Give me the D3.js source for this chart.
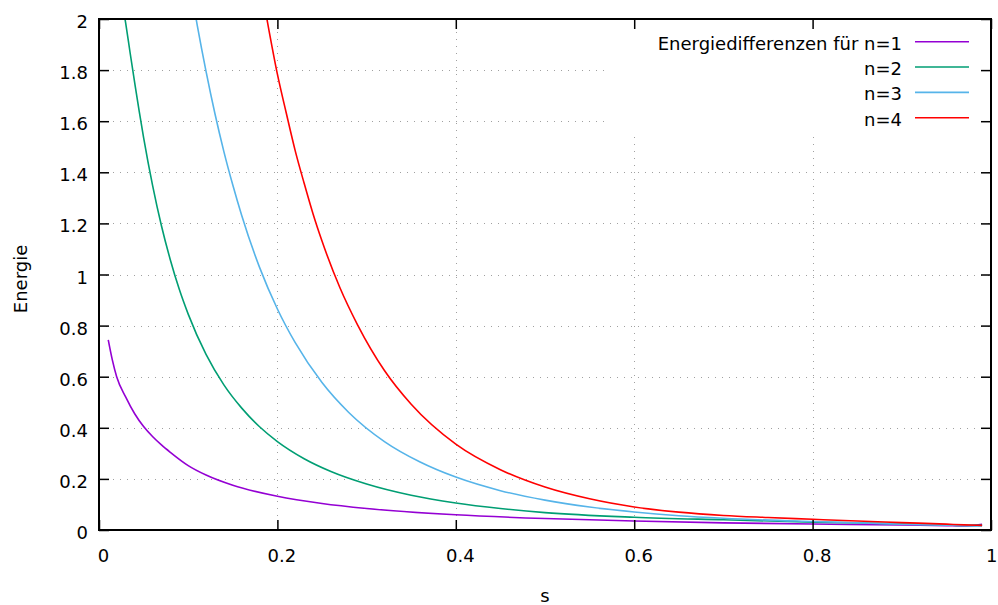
<!DOCTYPE html>
<html>
<head>
<meta charset="utf-8">
<script src="https://cdn.jsdelivr.net/npm/d3@7"></script>
<style>
  html, body { margin: 0; padding: 0; background: #fff; }
  svg { display: block; }
  text { font-family: "DejaVu Sans", sans-serif; font-size: 18px; fill: #000; }
</style>
</head>
<body>
<svg id="chart" width="998" height="605"></svg>
<script>
// ---- data ----
const xTicks = [0, 0.2, 0.4, 0.6, 0.8, 1];
const yTicks = [0, 0.2, 0.4, 0.6, 0.8, 1, 1.2, 1.4, 1.6, 1.8, 2];
const seriesNames = ["Energiedifferenzen für n=1", "n=2", "n=3", "n=4"];

const s1 = [0.0104,0.015,0.0198,0.03,0.04,0.05,0.06,0.07,0.08,0.1,0.12,0.15,0.2,0.25,0.3,0.4,0.5,0.6,0.7,0.8,0.9,0.95,0.97,0.99];
const e1 = [0.744,0.665,0.6,0.52,0.455,0.405,0.366,0.333,0.304,0.252,0.215,0.175,0.132,0.104,0.0844,0.0596,0.0448,0.035,0.028,0.0233,0.0195,0.017,0.016,0.022];

const s2 = [0.025,0.03,0.035,0.04,0.045,0.05,0.06,0.07,0.08,0.09,0.1,0.12,0.14,0.16,0.18,0.2,0.23,0.26,0.3,0.35,0.4,0.45,0.5,0.6,0.7,0.8,0.9,0.95,0.97,0.99];
const e2 = [2.09,1.982,1.865,1.751,1.64,1.536,1.35,1.191,1.057,0.942,0.845,0.687,0.568,0.477,0.404,0.346,0.279,0.229,0.18,0.136,0.106,0.0844,0.068,0.05,0.04,0.031,0.024,0.02,0.018,0.018];

const s3 = [0.1,0.11,0.12,0.13,0.14,0.15,0.16,0.18,0.2,0.22,0.25,0.28,0.32,0.36,0.4,0.45,0.5,0.55,0.6,0.65,0.7,0.8,0.9,0.95,0.97,0.99];
const e3 = [2.18,1.978,1.795,1.629,1.481,1.35,1.231,1.028,0.865,0.733,0.577,0.46,0.346,0.266,0.207,0.154,0.117,0.09,0.0706,0.056,0.046,0.033,0.023,0.019,0.017,0.016];

const s4 = [0.18,0.19,0.2,0.21,0.22,0.23,0.24,0.25,0.27,0.29,0.32,0.35,0.4,0.45,0.5,0.55,0.6,0.65,0.7,0.75,0.8,0.85,0.9,0.95,0.97,0.99];
const e4 = [2.16,1.966,1.784,1.631,1.484,1.357,1.237,1.131,0.949,0.802,0.624,0.492,0.336,0.236,0.168,0.122,0.09,0.07,0.057,0.049,0.042,0.035,0.029,0.023,0.02,0.018];

const seriesS = [s1, s2, s3, s4];
const seriesE = [e1, e2, e3, e4];
const colors = ["#9400d3", "#009e73", "#56b4e9", "#ff0000"];

// ---- layout ----
const L = 99, R = 991, T = 19, B = 530;
const svg = d3.select("#chart");
const x = d3.scaleLinear().domain([0, 1]).range([L, R]);
const y = d3.scaleLinear().domain([0, 2]).range([B, T]);
const fmt = d => String(+d.toFixed(1));

// grid
const grid = svg.append("g").attr("stroke", "#a0a0a0").attr("stroke-width", 1).attr("stroke-dasharray", "1,6");
grid.selectAll("line.gx").data(xTicks.filter(d => d > 0 && d < 1)).join("line")
  .attr("x1", d => Math.round(x(d)) + 0.5).attr("x2", d => Math.round(x(d)) + 0.5)
  .attr("y1", B).attr("y2", T);
grid.selectAll("line.gy").data(yTicks.filter(d => d > 0 && d < 2)).join("line")
  .attr("y1", d => Math.round(y(d)) + 0.5).attr("y2", d => Math.round(y(d)) + 0.5)
  .attr("x1", L).attr("x2", R);

// legend background (hides grid)
svg.append("rect").attr("x", 608).attr("y", T).attr("width", R - 608).attr("height", 113).attr("fill", "#fff");

// curves
svg.append("defs").append("clipPath").attr("id", "clip")
  .append("rect").attr("x", L).attr("y", T).attr("width", R - L).attr("height", B - T);
const lineGen = d3.line().x(d => x(d[0])).y(d => y(d[1])).curve(d3.curveMonotoneX);
const curves = svg.append("g").attr("clip-path", "url(#clip)");
seriesS.forEach((s, i) => {
  const pts = s.map((v, j) => [v, seriesE[i][j]]);
  curves.append("path").datum(pts).attr("d", lineGen)
    .attr("fill", "none").attr("stroke", colors[i]).attr("stroke-width", 1.6);
});

// axes with inward ticks
function styleAxis(g) {
  g.select(".domain").remove();
  g.selectAll(".tick line").attr("stroke", "#000").attr("stroke-width", 1.5);
  g.selectAll("text").style("font-family", '"DejaVu Sans", sans-serif').style("font-size", "18px").attr("fill", "#000");
}
const axB = svg.append("g").attr("transform", `translate(0,${B})`)
  .call(d3.axisBottom(x).tickValues(xTicks).tickFormat(fmt).tickSize(-10));
styleAxis(axB);
axB.selectAll("text").attr("y", 32).attr("dy", 0).attr("dx", 4);
axB.selectAll(".tick").filter(d => d === 1).select("text").attr("text-anchor", "end").attr("dx", 6);

const axT = svg.append("g").attr("transform", `translate(0,${T})`)
  .call(d3.axisTop(x).tickValues(xTicks).tickSize(-10).tickFormat(""));
styleAxis(axT);

const axL = svg.append("g").attr("transform", `translate(${L},0)`)
  .call(d3.axisLeft(y).tickValues(yTicks).tickFormat(fmt).tickSize(-10));
styleAxis(axL);
axL.selectAll("text").attr("x", -11).attr("dy", "0.42em").attr("y", 1);

const axR = svg.append("g").attr("transform", `translate(${R},0)`)
  .call(d3.axisRight(y).tickValues(yTicks).tickSize(-10).tickFormat(""));
styleAxis(axR);

// border
svg.append("rect").attr("x", L).attr("y", T).attr("width", R - L).attr("height", B - T)
  .attr("fill", "none").attr("stroke", "#000").attr("stroke-width", 2);

// axis titles
svg.append("text").attr("x", (L + R) / 2).attr("y", 602).attr("text-anchor", "middle").text("s");
svg.append("text").attr("transform", "translate(27,279) rotate(-90)").attr("text-anchor", "middle").text("Energie");

// legend
const legY = d3.scalePoint().domain(seriesNames).range([41.7, 117.7]);
const leg = svg.append("g");
seriesNames.forEach((n, i) => {
  const yy = legY(n);
  leg.append("text").attr("x", 902).attr("y", yy + 8).attr("text-anchor", "end").text(n);
  leg.append("line").attr("x1", 915).attr("x2", 969).attr("y1", yy).attr("y2", yy)
    .attr("stroke", colors[i]).attr("stroke-width", 1.6);
});
</script>
</body>
</html>
